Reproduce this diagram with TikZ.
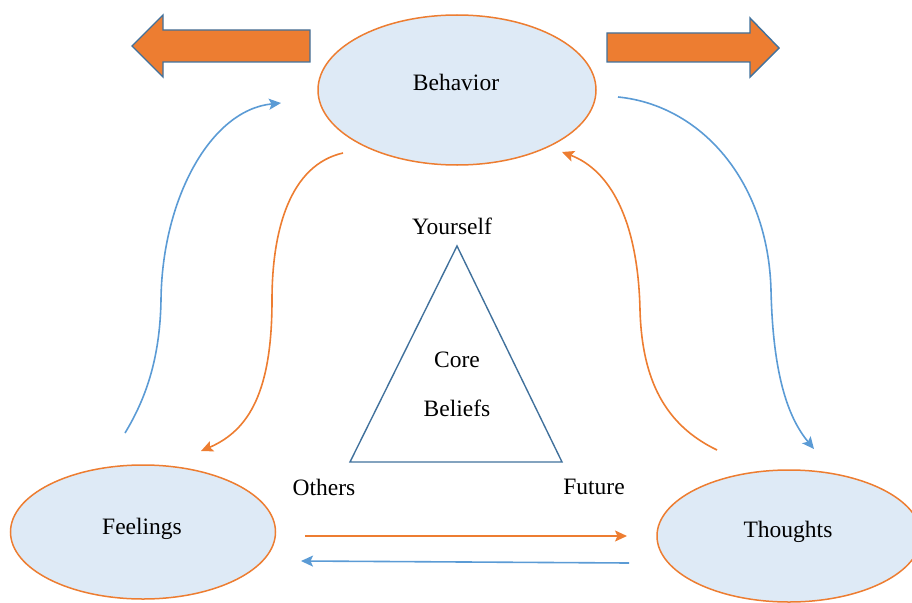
\documentclass[tikz,border=0pt]{standalone}
\usepackage{fontspec}
\setmainfont{Liberation Serif}
\usetikzlibrary{arrows.meta,shapes.geometric}
\definecolor{cbOrange}{HTML}{ED7D31}
\definecolor{cbBlue}{HTML}{5B9BD5}
\definecolor{cbEdge}{HTML}{41719C}
\definecolor{cbFill}{HTML}{DEEAF6}
\tikzset{
  bubble/.style={ellipse, draw=cbOrange, fill=cbFill, line width=1.5pt, inner sep=0pt},
  lbl/.style={font=\fontsize{23.5}{26}\selectfont, text=black, inner sep=0pt},
  tipstyle/.style={-{Stealth[length=12pt,width=11pt,inset=2.5pt]}},
  orangelink/.style={draw=cbOrange, line width=1.6pt, tipstyle},
  bluelink/.style={draw=cbBlue, line width=1.6pt, tipstyle},
  bigarrow/.style={fill=cbOrange, draw=cbEdge, line width=1.4pt, line join=miter}
}
\begin{document}
\begin{tikzpicture}[x=1pt,y=-1pt]
\useasboundingbox (0,0) rectangle (912,602);
\clip (0,0) rectangle (912,602);

% the three ellipses
\node[bubble, minimum width=278pt, minimum height=150pt] (beh) at (457,90) {};
\node[bubble, minimum width=265pt, minimum height=134pt] (fee) at (143,532) {};
\node[bubble, minimum width=264pt, minimum height=132pt] (tho) at (789,536) {};
\node[lbl] (behT) at (456,82) {Behavior};
\node[lbl] (feeT) at (142,529) {Feelings};
\node[lbl] (thoT) at (788,532) {Thoughts};

% block arrows beside Behavior
\draw[bigarrow] (310,30) -- (163,30) -- (163,15) -- (132,46) -- (163,77) -- (163,62) -- (310,62) -- cycle;
\draw[bigarrow] (607,33) -- (750,33) -- (750,18) -- (779,48) -- (750,77) -- (750,62) -- (607,62) -- cycle;

% core beliefs triangle
\coordinate (apex) at (457,246);
\coordinate (bl) at (350,462);
\coordinate (br) at (562,462);
\draw[cbEdge, line width=1.4pt, line join=miter] (apex) -- (bl) -- (br) -- cycle;
\node[lbl] (you) at (452,226) {Yourself};
\node[lbl] (core) at (457,360) {Core};
\node[lbl] (bel) at (457,408) {Beliefs};
\node[lbl] (oth) at (324,487) {Others};
\node[lbl] (fut) at (594,487) {Future};

% curved links (S-shaped, two cubic pieces each)
\coordinate (a1) at (125,433);
\coordinate (a2) at (281,103);
\draw[bluelink] (a1) .. controls (145,400) and (160,360) .. (161,300)
                .. controls (162,200) and (210,110) .. (a2);

\coordinate (b1) at (343,153);
\coordinate (b2) at (201,451);
\draw[orangelink] (b1) .. controls (290,165) and (272,230) .. (272,300)
                  .. controls (272,390) and (250,430) .. (b2);

\coordinate (c1) at (717,450);
\coordinate (c2) at (562,152);
\draw[orangelink] (c1) .. controls (665,425) and (642,380) .. (640,310)
                  .. controls (638,220) and (610,170) .. (c2);

\coordinate (d1) at (618,97);
\coordinate (d2) at (814,449);
\draw[bluelink] (d1) .. controls (700,105) and (768,180) .. (771,290)
                .. controls (773,380) and (790,420) .. (d2);

% straight links between Feelings and Thoughts
\coordinate (e1) at (305,536);
\coordinate (e2) at (627,536);
\draw[orangelink] (e1) -- (e2);
\coordinate (f1) at (629,563);
\coordinate (f2) at (301,561);
\draw[bluelink] (f1) -- (f2);
\end{tikzpicture}
\end{document}
